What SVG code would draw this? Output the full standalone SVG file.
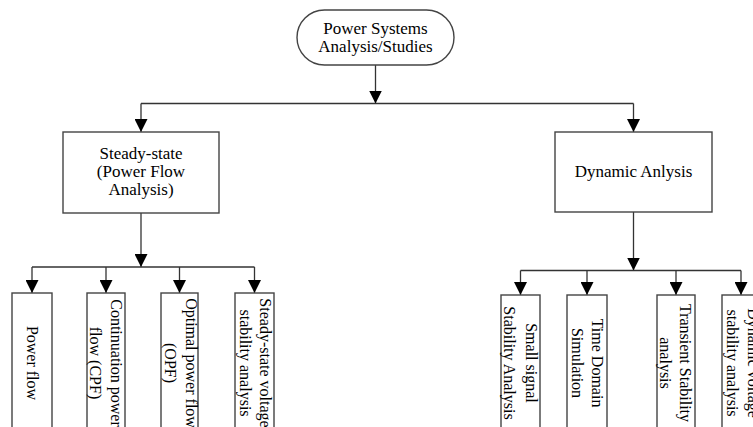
<svg xmlns="http://www.w3.org/2000/svg" width="753" height="427" viewBox="0 0 753 427">
<style>
.box{fill:#fff;stroke:#444;stroke-width:1.4}
.ln{fill:none;stroke:#333;stroke-width:1.3}
.arr{fill:none;stroke:#333;stroke-width:1.3;marker-end:url(#ah)}
text{font-family:"Liberation Serif","Times New Roman",serif;fill:#000}
.h{font-size:17px;text-anchor:middle}
.v{font-size:16px;text-anchor:middle}
</style>
<defs>
<marker id="ah" viewBox="0 0 13 13" refX="13" refY="6.5" markerWidth="13" markerHeight="13" markerUnits="userSpaceOnUse" orient="auto">
<path d="M0,0 L13,6.5 L0,13 z" fill="#000"/>
</marker>
</defs>
<rect width="753" height="427" fill="#fff"/>
<g id="connectors">
<path class="arr" d="M375.5 65 V103.5"/>
<path class="ln" d="M141 103.5 H633.5"/>
<path class="arr" d="M141 103.5 V132"/>
<path class="arr" d="M633.5 103.5 V132"/>
<path class="arr" d="M141 213 V267"/>
<path class="ln" d="M32 267 H254.5"/>
<path class="arr" d="M32 267 V293"/>
<path class="arr" d="M106 267 V293"/>
<path class="arr" d="M179.5 267 V293"/>
<path class="arr" d="M254.5 267 V293"/>
<path class="arr" d="M633.5 212 V270.5"/>
<path class="ln" d="M520.5 270.5 H741"/>
<path class="arr" d="M520.5 270.5 V295"/>
<path class="arr" d="M587 270.5 V295"/>
<path class="arr" d="M676 270.5 V295"/>
<path class="arr" d="M741 270.5 V295"/>
</g>
<g id="root">
<rect class="box" x="297" y="10" width="157" height="55" rx="27.5"/>
<text class="h" x="375.5" y="33.5">Power Systems</text>
<text class="h" x="375.5" y="52">Analysis/Studies</text>
</g>
<g id="steady">
<rect class="box" x="63" y="132" width="156" height="81"/>
<text class="h" x="141" y="159">Steady-state</text>
<text class="h" x="141" y="177">(Power Flow</text>
<text class="h" x="141" y="195">Analysis)</text>
</g>
<g id="dynamic">
<rect class="box" x="555" y="132" width="157" height="80"/>
<text class="h" x="633.5" y="177">Dynamic Anlysis</text>
</g>
<g id="powerflow">
<rect class="box" x="12" y="293" width="40" height="150"/>
<text class="v" transform="translate(27,363) rotate(90)">Power flow</text>
</g>
<g id="cpf">
<rect class="box" x="87" y="293" width="38" height="150"/>
<text class="v" transform="translate(111,363) rotate(90)">Continuation power</text>
<text class="v" transform="translate(90,363) rotate(90)">flow (CPF)</text>
</g>
<g id="opf">
<rect class="box" x="161" y="293" width="37" height="150"/>
<text class="v" transform="translate(186,363) rotate(90)">Optimal power flow</text>
<text class="v" transform="translate(165,363) rotate(90)">(OPF)</text>
</g>
<g id="ssvsa">
<rect class="box" x="235" y="293" width="39" height="150"/>
<text class="v" transform="translate(260,363) rotate(90)">Steady-state voltage</text>
<text class="v" transform="translate(240,363) rotate(90)">stability analysis</text>
</g>
<g id="smallsignal">
<rect class="box" x="501" y="295" width="39" height="150"/>
<text class="v" transform="translate(526,363) rotate(90)">Small signal</text>
<text class="v" transform="translate(504,363) rotate(90)">Stability Analysis</text>
</g>
<g id="timedomain">
<rect class="box" x="567" y="295" width="40" height="150"/>
<text class="v" transform="translate(592,363) rotate(90)">Time Domain</text>
<text class="v" transform="translate(572,363) rotate(90)">Simulation</text>
</g>
<g id="transient">
<rect class="box" x="657" y="295" width="38" height="150"/>
<text class="v" transform="translate(680,363) rotate(90)">Transient Stability</text>
<text class="v" transform="translate(660,363) rotate(90)">analysis</text>
</g>
<g id="dynvolt">
<rect class="box" x="722" y="295" width="39" height="150"/>
<text class="v" transform="translate(748,363) rotate(90)">Dynamic voltage</text>
<text class="v" transform="translate(727,363) rotate(90)">stability analysis</text>
</g>
</svg>
